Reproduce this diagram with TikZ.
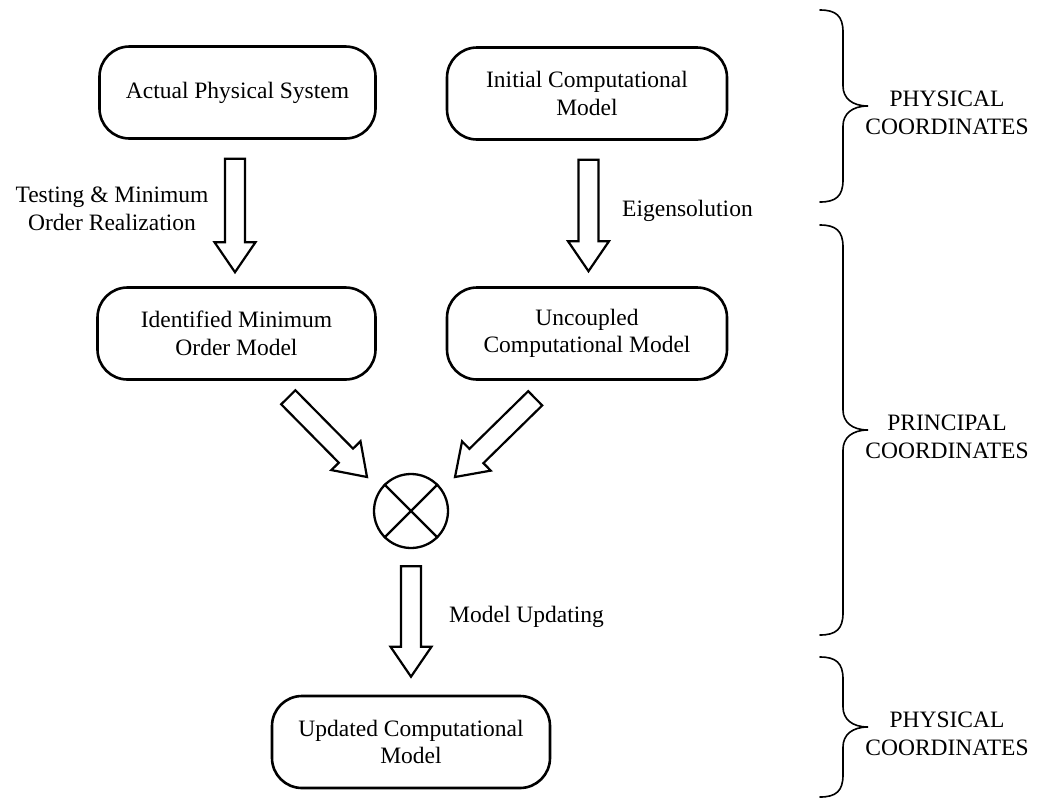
\documentclass[tikz,border=0pt]{standalone}
\usepackage{fontspec}
\setmainfont{Liberation Serif}
\newfontfamily\tnrfont{Liberation Serif}
\usetikzlibrary{calc}

\tikzset{
  txt/.style={font=\tnrfont\fontsize{23.5}{27.5}\selectfont},
  box/.style={txt, draw, line width=2.6pt, rounded corners=30pt,
    minimum width=276pt, minimum height=92pt, align=center, inner sep=0pt},
  fat/.style={draw, line width=2.2pt, line join=miter, fill=white},
  lbl/.style={txt, align=center, inner sep=0pt},
  sidebrace/.style={draw, line width=1.6pt, line cap=round},
  junction/.style={draw, circle, line width=2.3pt, minimum size=74pt, inner sep=0pt},
}

% hollow block arrow from coordinate #1 to coordinate #2
\newcommand\fatarrow[2]{%
  \coordinate (hb) at ($(#2)!30pt!(#1)$);
  \path[fat] ($(#1)!10pt!90:(#2)$) -- ($(hb)!10pt!90:(#2)$)
    -- ($(hb)!20.5pt!90:(#2)$) -- (#2) -- ($(hb)!20.5pt!-90:(#2)$)
    -- ($(hb)!10pt!-90:(#2)$) -- ($(#1)!10pt!-90:(#2)$) -- cycle;
}

\begin{document}
\begin{tikzpicture}[x=1pt, y=-1pt]
\useasboundingbox (0,0) rectangle (1039,801);

% model boxes
\node[box] (aps) at (237.5,92.5) {Actual Physical System};
\node[box, minimum width=280pt] (icm) at (587,93.5) {Initial Computational\\Model};
\node[box, minimum width=278pt] (imo) at (236.5,333.5) {Identified Minimum\\Order Model};
\node[box, minimum width=280pt] (ucm) at (587,333.5) {Uncoupled\\Computational Model};
\node[box, minimum width=278pt] (upd) at (411,742) {Updated Computational\\Model};

% combining junction
\node[junction] (jn) at (411,511) {};
\draw[line width=2.3pt] (jn.north west) -- (jn.south east);
\draw[line width=2.3pt] (jn.north east) -- (jn.south west);

% arrow end points
\coordinate (a1s) at ($(aps.south)+(-2.5,19)$);
\coordinate (a1e) at ($(imo.north)+(-1.5,-14)$);
\coordinate (a2s) at ($(icm.south)+(1.5,19)$);
\coordinate (a2e) at ($(ucm.north)+(1.5,-15)$);
\coordinate (a3s) at ($(imo.south east)+(-88.5,16.5)$);
\coordinate (a3e) at ($(jn.center)+(-44,-34)$);
\coordinate (a4s) at ($(ucm.south west)+(89.5,17.5)$);
\coordinate (a4e) at ($(jn.center)+(44,-34)$);
\coordinate (a5s) at ($(jn.south)+(0,17)$);
\coordinate (a5e) at ($(upd.north)+(0,-18)$);

\fatarrow{a1s}{a1e}
\fatarrow{a2s}{a2e}
\fatarrow{a3s}{a3e}
\fatarrow{a4s}{a4e}
\fatarrow{a5s}{a5e}

% arrow labels
\node[lbl] (l1) at (112,209) {Testing \& Minimum\\Order Realization};
\node[lbl, anchor=west] (l2) at (622,211) {Eigensolution};
\node[lbl, anchor=west] (l3) at (449,617) {Model Updating};

% coordinate braces
\draw[sidebrace] (820,10) .. controls (836,10) and (843,16) .. (843,32)
  -- (843,86) .. controls (843,98) and (852,106) .. (868,106)
  .. controls (852,106) and (843,114) .. (843,126)
  -- (843,180) .. controls (843,196) and (836,202) .. (820,202);
\draw[sidebrace] (820,225) .. controls (836,225) and (843,231) .. (843,247)
  -- (843,410) .. controls (843,422) and (852,430) .. (868,430)
  .. controls (852,430) and (843,438) .. (843,450)
  -- (843,613) .. controls (843,629) and (836,635) .. (820,635);
\draw[sidebrace] (820,657) .. controls (836,657) and (843,663) .. (843,679)
  -- (843,707) .. controls (843,719) and (852,727) .. (868,727)
  .. controls (852,727) and (843,735) .. (843,747)
  -- (843,775) .. controls (843,791) and (836,797) .. (820,797);

\node[lbl] (s1) at (947,113) {PHYSICAL\\COORDINATES};
\node[lbl] (s2) at (947,437) {PRINCIPAL\\COORDINATES};
\node[lbl] (s3) at (947,734) {PHYSICAL\\COORDINATES};
\end{tikzpicture}
\end{document}
